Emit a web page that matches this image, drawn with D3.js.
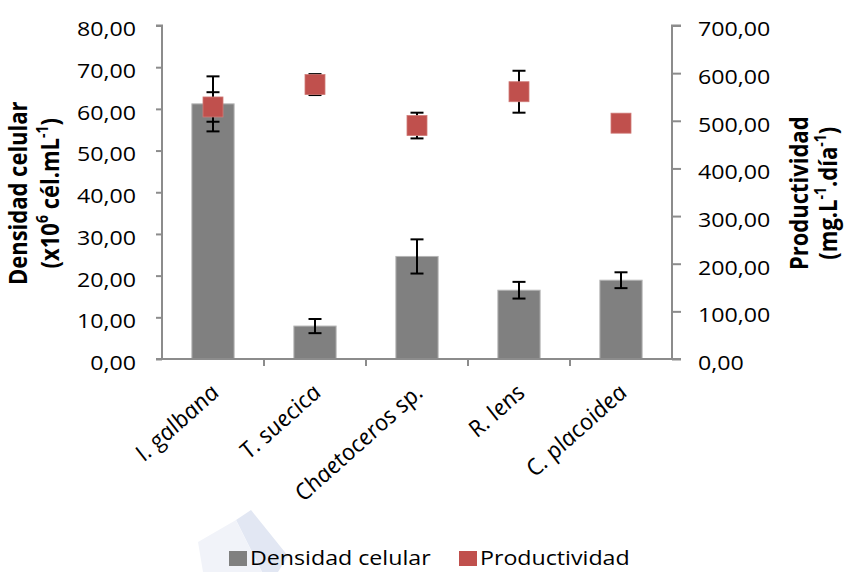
<!DOCTYPE html>
<html>
<head>
<meta charset="utf-8">
<script src="https://cdn.jsdelivr.net/npm/d3@7"></script>
<style>
  html, body { margin: 0; padding: 0; background: #fff; }
  svg { display: block; font-family: "Open Sans", "Noto Sans", sans-serif; }
</style>
</head>
<body>
<svg id="chart" width="845" height="572"></svg>
<script>
// Microalgae species
const species = ["I. galbana", "T. suecica", "Chaetoceros sp.", "R. lens", "C. placoidea"];
// Cell density (x10^6 cél.mL^-1) and its error
const density = [61.2, 7.9, 24.6, 16.5, 18.9];
const densityErr = [6.6, 1.7, 4.1, 2.0, 1.9];
// Productivity (mg.L^-1.día^-1) and its error
const productivity = [529, 576, 490, 561, 495];
const productivityErr = [31, 22, 27, 44, 0];
// Axis ticks
const leftTicks = [0, 10, 20, 30, 40, 50, 60, 70, 80];
const rightTicks = [0, 100, 200, 300, 400, 500, 600, 700];

const svg = d3.select("#chart");
const m = { left: 162, right: 672, top: 25.5, bottom: 359 };
const SX = 1.16; // horizontal widening of the lettering

const locale = d3.formatLocale({ decimal: ",", thousands: ".", grouping: [3], currency: ["", "€"] });
const fmt = locale.format(".2f");

const x = d3.scaleBand().domain(species).range([m.left, m.right]).paddingInner(0.586).paddingOuter(0.293);
const yL = d3.scaleLinear().domain([0, 80]).range([m.bottom, m.top]);
const yR = d3.scaleLinear().domain([0, 700]).range([m.bottom, m.top]);

const axisColor = "#8c8c8c";

// faint background watermark shape
svg.append("path")
  .attr("d", "M236,520 L251,510 L288,556 L278,572 L262,572 Z")
  .attr("fill", "#e2e7f3");
svg.append("path")
  .attr("d", "M198,542 L236,520 L262,572 L203,572 Z")
  .attr("fill", "#f1f3f9");

// bars
svg.append("g").selectAll("rect").data(species).join("rect")
  .attr("x", d => x(d))
  .attr("y", (d, i) => yL(density[i]))
  .attr("width", x.bandwidth())
  .attr("height", (d, i) => yL(0) - yL(density[i]))
  .attr("fill", "#808080")
  .attr("stroke", "#b4b4b4")
  .attr("stroke-width", 1);

// error bars helper
function errorBars(vals, errs, scale, cls) {
  const g = svg.append("g").attr("class", cls)
    .attr("stroke", "#000").attr("stroke-width", 2).attr("fill", "none");
  species.forEach((s, i) => {
    if (!errs[i]) return;
    const cx = x(s) + x.bandwidth() / 2;
    const y1 = scale(vals[i] + errs[i]), y2 = scale(vals[i] - errs[i]);
    g.append("line").attr("x1", cx).attr("x2", cx).attr("y1", y1).attr("y2", y2);
    g.append("line").attr("x1", cx - 6.5).attr("x2", cx + 6.5).attr("y1", y1).attr("y2", y1);
    g.append("line").attr("x1", cx - 6.5).attr("x2", cx + 6.5).attr("y1", y2).attr("y2", y2);
  });
}
errorBars(density, densityErr, yL, "err-density");
errorBars(productivity, productivityErr, yR, "err-prod");

// productivity markers
svg.append("g").selectAll("rect").data(species).join("rect")
  .attr("x", d => x(d) + x.bandwidth() / 2 - 10)
  .attr("y", (d, i) => yR(productivity[i]) - 10)
  .attr("width", 20).attr("height", 20)
  .attr("fill", "#C0504D")
  .attr("stroke", "#cf7a77").attr("stroke-width", 0.8);

// left axis
const gL = svg.append("g").attr("transform", `translate(${m.left},0)`)
  .call(d3.axisLeft(yL).tickValues(leftTicks).tickFormat(fmt).tickSize(6).tickPadding(20));
// right axis
const gR = svg.append("g").attr("transform", `translate(${m.right},0)`)
  .call(d3.axisRight(yR).tickValues(rightTicks).tickFormat(fmt).tickSize(9).tickPadding(17));
[gL, gR].forEach(g => {
  g.select(".domain").attr("stroke", axisColor).attr("stroke-width", 2);
  g.selectAll(".tick line").attr("stroke", axisColor).attr("stroke-width", 2);
  g.selectAll(".tick text").attr("fill", "#000").attr("font-size", 20)
    .attr("font-family", "Open Sans, sans-serif")
    .attr("dy", "0.52em")
    .attr("transform", function () {
      const ax = +d3.select(this).attr("x");
      return `matrix(${SX},0,0,1,${ax * (1 - SX)},0)`;
    });
});
gL.select(".domain").attr("d", `M-6,${m.top}H0V${m.bottom}H-6`);
gR.select(".domain").attr("d", `M9,${m.top}H0V${m.bottom}H9`);

// x axis
const gX = svg.append("g");
gX.append("line").attr("x1", m.left - 6).attr("x2", m.right)
  .attr("y1", m.bottom).attr("y2", m.bottom)
  .attr("stroke", axisColor).attr("stroke-width", 2);
const step = x.step();
d3.range(1, species.length).forEach(k => {
  const tx = m.left + k * step;
  gX.append("line").attr("x1", tx).attr("x2", tx).attr("y1", m.bottom).attr("y2", m.bottom + 7)
    .attr("stroke", axisColor).attr("stroke-width", 2);
});
gX.selectAll("text.cat").data(species).join("text").attr("class", "cat")
  .attr("transform", d => `translate(${x(d) + x.bandwidth() / 2 + 8},${m.bottom + 35}) scale(${SX},1) rotate(-46)`)
  .attr("text-anchor", "end")
  .attr("font-size", 21.5)
  .attr("font-style", "italic")
  .attr("fill", "#000")
  .text(d => d);

// left axis title
const tL = svg.append("text")
  .attr("transform", `translate(27,${(m.top + m.bottom) / 2 + 1}) scale(1.1,1) rotate(-90)`)
  .attr("text-anchor", "middle").attr("font-weight", "bold").attr("font-size", 22);
tL.append("tspan").attr("x", 0).attr("dy", 0).text("Densidad celular");
const tL2 = tL.append("tspan").attr("x", 0).attr("dy", 29);
tL2.append("tspan").text("(x10");
tL2.append("tspan").attr("baseline-shift", "super").attr("font-size", 14).text("6");
tL2.append("tspan").text(" cél.mL");
tL2.append("tspan").attr("baseline-shift", "super").attr("font-size", 14).text("-1");
tL2.append("tspan").text(")");

// right axis title
const tR = svg.append("text")
  .attr("transform", `translate(808,${(m.top + m.bottom) / 2 + 1}) scale(1.1,1) rotate(-90)`)
  .attr("text-anchor", "middle").attr("font-weight", "bold").attr("font-size", 22);
tR.append("tspan").attr("x", 0).attr("dy", 0).text("Productividad");
const tR2 = tR.append("tspan").attr("x", 0).attr("dy", 26);
tR2.append("tspan").text("(mg.L");
tR2.append("tspan").attr("baseline-shift", "super").attr("font-size", 14).text("-1");
tR2.append("tspan").text(".día");
tR2.append("tspan").attr("baseline-shift", "super").attr("font-size", 14).text("-1");
tR2.append("tspan").text(")");

// legend
const legend = [
  { label: "Densidad celular", color: "#808080", x: 229 },
  { label: "Productividad", color: "#C0504D", x: 459 }
];
const lg = svg.append("g");
legend.forEach(l => {
  lg.append("rect").attr("x", l.x).attr("y", 551).attr("width", 18).attr("height", 15).attr("fill", l.color);
  const tx = l.x + 21;
  lg.append("text").attr("x", tx).attr("y", 565).attr("font-size", 20).attr("fill", "#000")
    .attr("transform", `matrix(${SX},0,0,1,${tx * (1 - SX)},0)`)
    .text(l.label);
});
</script>
</body>
</html>
